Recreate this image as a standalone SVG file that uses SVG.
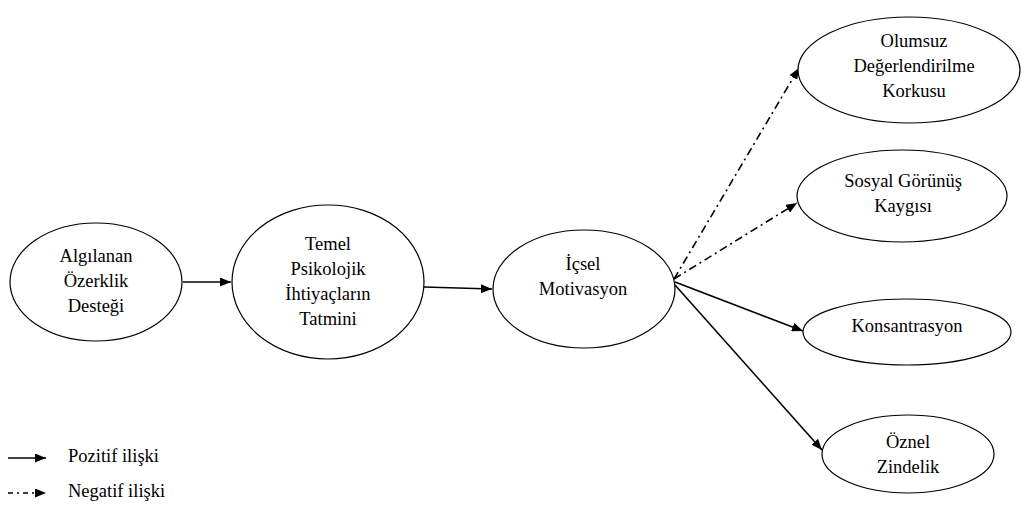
<svg xmlns="http://www.w3.org/2000/svg" width="1022" height="511" viewBox="0 0 1022 511">
<style>
.n{fill:#fff;stroke:#000;stroke-width:1.2}
text{font-family:'Liberation Serif','Times New Roman',serif;font-size:18.5px;fill:#000}
.t{text-anchor:middle}
.c{fill:none;stroke:#000;stroke-width:1.6}
.d{stroke-dasharray:8 4 2 4}
</style>
<defs>
<marker id="ah" markerUnits="userSpaceOnUse" markerWidth="11" markerHeight="9" refX="11" refY="4.5" orient="auto">
<path d="M0,0 L11,4.5 L0,9 z" fill="#000"/>
</marker>
</defs>
<rect width="1022" height="511" fill="#fff"/>
<g id="connectors">
<line class="c" x1="183" y1="282" x2="231" y2="282" marker-end="url(#ah)"/>
<line class="c" x1="424" y1="287" x2="492" y2="289" marker-end="url(#ah)"/>
<line class="c d" x1="674" y1="279" x2="799" y2="68" marker-end="url(#ah)"/>
<line class="c d" x1="674" y1="279" x2="797" y2="203" marker-end="url(#ah)"/>
<line class="c" x1="675" y1="282" x2="803" y2="331" marker-end="url(#ah)"/>
<line class="c" x1="675" y1="285" x2="822" y2="450" marker-end="url(#ah)"/>
</g>
<g id="n1">
<ellipse class="n" cx="96" cy="282" rx="86" ry="59"/>
<text class="t" x="96" y="262">Algılanan</text>
<text class="t" x="96" y="287">Özerklik</text>
<text class="t" x="96" y="312">Desteği</text>
</g>
<g id="n2">
<ellipse class="n" cx="328" cy="282" rx="96" ry="77"/>
<text class="t" x="328" y="250">Temel</text>
<text class="t" x="328" y="275">Psikolojik</text>
<text class="t" x="328" y="300">İhtiyaçların</text>
<text class="t" x="328" y="325">Tatmini</text>
</g>
<g id="n3">
<ellipse class="n" cx="584" cy="289" rx="91" ry="59"/>
<text class="t" x="583" y="270">İçsel</text>
<text class="t" x="583" y="295">Motivasyon</text>
</g>
<g id="n4">
<ellipse class="n" cx="909" cy="70" rx="111" ry="53"/>
<text class="t" x="914" y="47">Olumsuz</text>
<text class="t" x="914" y="72">Değerlendirilme</text>
<text class="t" x="914" y="97">Korkusu</text>
</g>
<g id="n5">
<ellipse class="n" cx="902" cy="196" rx="105" ry="46"/>
<text class="t" x="903" y="187">Sosyal Görünüş</text>
<text class="t" x="903" y="212">Kaygısı</text>
</g>
<g id="n6">
<ellipse class="n" cx="907" cy="332" rx="104" ry="33"/>
<text class="t" x="907" y="332">Konsantrasyon</text>
</g>
<g id="n7">
<ellipse class="n" cx="908" cy="454" rx="86" ry="39"/>
<text class="t" x="908" y="448">Öznel</text>
<text class="t" x="908" y="473">Zindelik</text>
</g>
<g id="legend">
<line class="c" x1="8" y1="458" x2="46" y2="458" marker-end="url(#ah)"/>
<text x="68" y="462">Pozitif ilişki</text>
<line class="c" x1="8" y1="493" x2="46" y2="493" stroke-dasharray="5 4 2 4" marker-end="url(#ah)"/>
<text x="68" y="497">Negatif ilişki</text>
</g>
</svg>
